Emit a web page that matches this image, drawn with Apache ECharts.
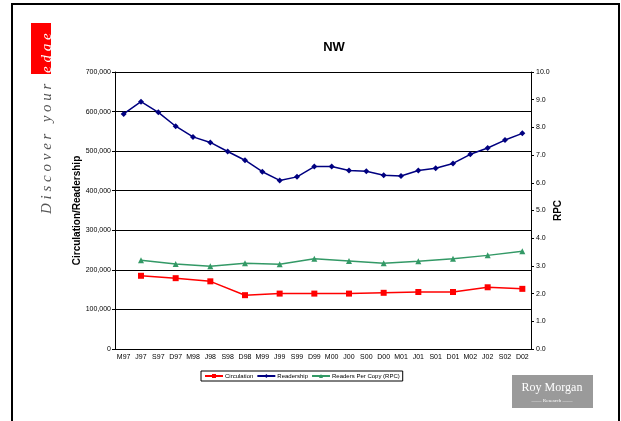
<!DOCTYPE html>
<html>
<head>
<meta charset="utf-8">
<script src="https://cdn.jsdelivr.net/npm/echarts@6/dist/echarts.min.js"></script>
<style>
  html, body { margin: 0; padding: 0; background: #fff; }
  #chart { width: 621px; height: 421px; }
</style>
</head>
<body>
<div id="chart"></div>
<script>
// quarters, Mar/Jun/Sep/Dec 1997 - 2002
const categories = [`M97`, `J97`, `S97`, `D97`, `M98`, `J98`, `S98`, `D98`, `M99`, `J99`, `S99`, `D99`,
  `M00`, `J00`, `S00`, `D00`, `M01`, `J01`, `S01`, `D01`, `M02`, `J02`, `S02`, `D02`];
const readership = [594000, 625000, 598000, 563000, 536000, 522000, 499000, 477000, 448000, 426000, 435000, 461000,
  461000, 451000, 449000, 439000, 437000, 451000, 457000, 469000, 492000, 508000, 528000, 545000];
// circulation and RPC only measured in June / December
const circulation = [null, 185000, null, 179000, null, 171000, null, 136000, null, 140000, null, 140000,
  null, 140000, null, 142000, null, 144000, null, 144000, null, 156000, null, 152000];
const rpc = [null, 3.20, null, 3.07, null, 2.99, null, 3.10, null, 3.06, null, 3.26,
  null, 3.18, null, 3.10, null, 3.17, null, 3.26, null, 3.38, null, 3.53];

const chart = echarts.init(document.getElementById(`chart`));
const axisFont = { fontFamily: `Liberation Sans`, fontSize: 7, color: `#000` };

const option = {
  animation: false,
  title: {
    text: `NW`,
    left: 329,
    top: 36,
    textAlign: `center`,
    textStyle: { fontFamily: `Liberation Sans`, fontSize: 13, fontWeight: `bold`, color: `#000` }
  },
  legend: {
    left: 201,
    top: 371,
    data: [`Circulation`, `Readership`, `Readers Per Copy (RPC)`],
    borderColor: `#000`,
    borderWidth: 1,
    borderRadius: 0,
    padding: [2, 3],
    itemGap: 3,
    itemWidth: 18,
    itemHeight: 5,
    textStyle: { fontFamily: `Liberation Sans`, fontSize: 6, color: `#000`, padding: [0, 0, 0, -3] }
  },
  grid: { left: 115, right: 90, top: 72, bottom: 72 },
  xAxis: {
    type: `category`,
    data: categories,
    boundaryGap: true,
    axisLine: { lineStyle: { color: `#000`, width: 1 } },
    axisTick: { length: 3, lineStyle: { color: `#000` } },
    axisLabel: Object.assign({ margin: 5, interval: 0 }, axisFont)
  },
  yAxis: [
    {
      type: `value`,
      min: 0,
      max: 700000,
      interval: 100000,
      name: `Circulation/Readership`,
      nameLocation: `middle`,
      nameGap: 33,
      nameMoveOverlap: false,
      nameTextStyle: { fontFamily: `Liberation Sans`, fontSize: 10, fontWeight: `bold`, color: `#000` },
      axisLine: { show: true, lineStyle: { color: `#000`, width: 1 } },
      axisTick: { show: true, length: 3, lineStyle: { color: `#000` } },
      axisLabel: Object.assign({ margin: 4, formatter: v => v.toLocaleString(`en-US`) }, axisFont),
      splitLine: { lineStyle: { color: `#000`, width: 1 } }
    },
    {
      type: `value`,
      min: 0,
      max: 10,
      interval: 1,
      name: `RPC`,
      nameLocation: `middle`,
      nameGap: 22,
      nameMoveOverlap: false,
      nameTextStyle: { fontFamily: `Liberation Sans`, fontSize: 10, fontWeight: `bold`, color: `#000` },
      axisLine: { show: true, lineStyle: { color: `#000`, width: 1 } },
      axisTick: { show: true, length: 3, lineStyle: { color: `#000` } },
      axisLabel: Object.assign({ margin: 5, formatter: v => v.toFixed(1) }, axisFont),
      splitLine: { show: false }
    }
  ],
  series: [
    {
      name: `Circulation`,
      type: `line`,
      yAxisIndex: 0,
      data: circulation,
      connectNulls: true,
      symbol: `rect`,
      symbolSize: 6,
      itemStyle: { color: `#ff0000` },
      lineStyle: { color: `#ff0000`, width: 1.5 }
    },
    {
      name: `Readership`,
      type: `line`,
      yAxisIndex: 0,
      data: readership,
      symbol: `diamond`,
      symbolSize: 6,
      itemStyle: { color: `#000080` },
      lineStyle: { color: `#000080`, width: 1.5 }
    },
    {
      name: `Readers Per Copy (RPC)`,
      type: `line`,
      yAxisIndex: 1,
      data: rpc,
      connectNulls: true,
      symbol: `triangle`,
      symbolSize: 6,
      itemStyle: { color: `#339966` },
      lineStyle: { color: `#339966`, width: 1.5 }
    }
  ],
  graphic: [
    // page frame
    { type: `polyline`, shape: { points: [[12, 421], [12, 4], [619, 4], [619, 421]] },
      style: { stroke: `#000`, lineWidth: 2, fill: null } },
    // side slogan
    { type: `rect`, shape: { x: 31, y: 23, width: 20, height: 51 }, style: { fill: `#ff0000` } },
    { type: `text`, x: 47, y: 214, rotation: Math.PI / 2,
      style: { text: `D i s c o v e r   y o u r`, fill: `#555`, font: `italic 15px "Liberation Serif"`,
        textVerticalAlign: `middle` } },
    { type: `text`, x: 47, y: 73, rotation: Math.PI / 2,
      style: { text: `e d g e`, fill: `#fff`, font: `italic 15px "Liberation Serif"`,
        textVerticalAlign: `middle` } },
    // logo
    { type: `rect`, shape: { x: 512, y: 375, width: 81, height: 33 }, style: { fill: `#9a9a9a` } },
    { type: `text`, x: 552, y: 388,
      style: { text: `Roy Morgan`, fill: `#fff`, font: `12px "Liberation Serif"`, textAlign: `center`, textVerticalAlign: `middle` } },
    { type: `text`, x: 552, y: 401,
      style: { text: `—— Research ——`, fill: `#fff`, font: `5px "Liberation Serif"`, textAlign: `center`, textVerticalAlign: `middle` } }
  ]
};

option && chart.setOption(option);
</script>
</body>
</html>
